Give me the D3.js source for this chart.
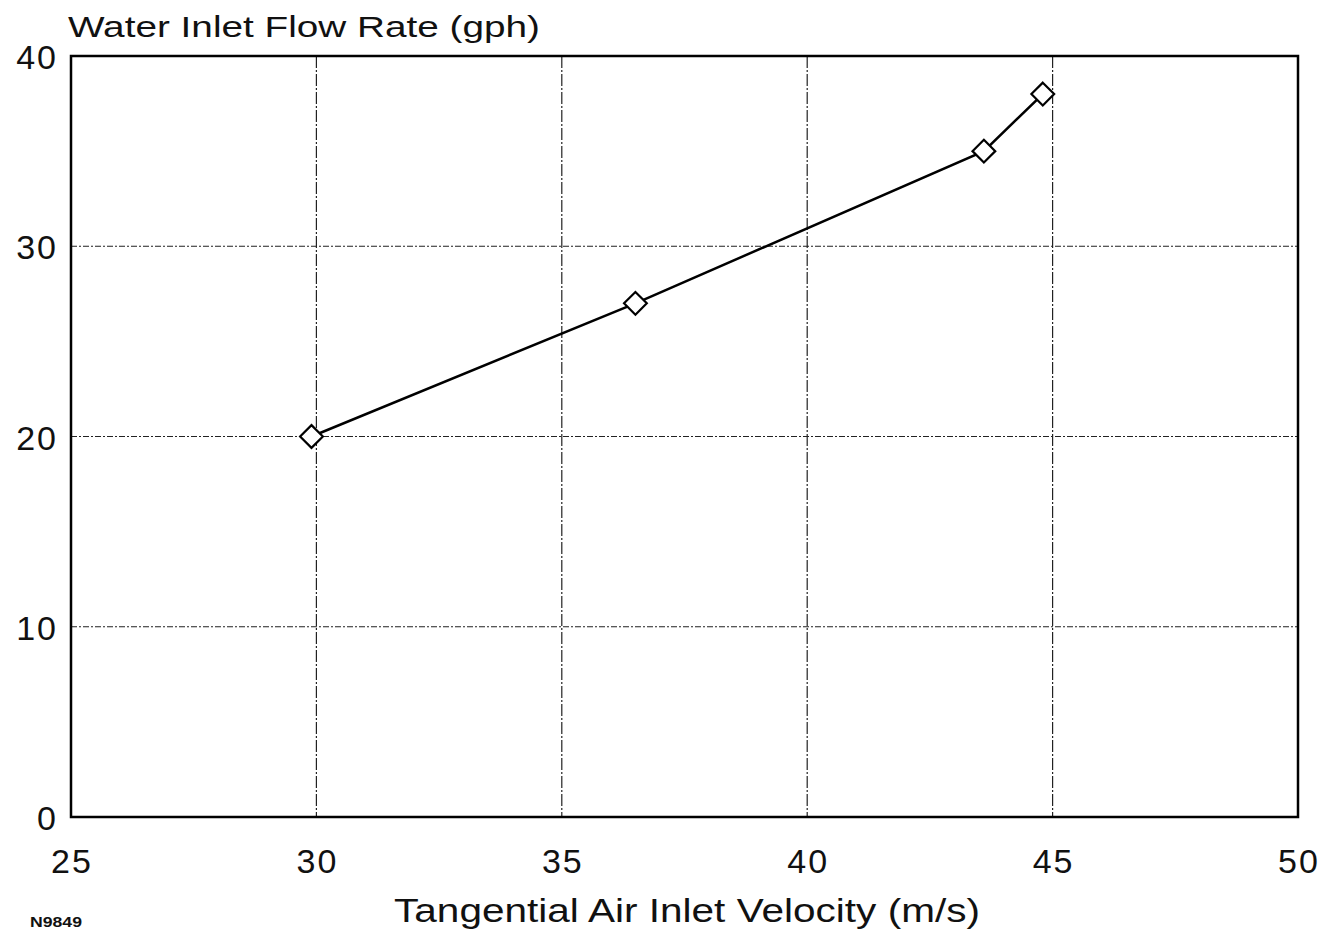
<!DOCTYPE html>
<html>
<head>
<meta charset="utf-8">
<script src="https://cdn.jsdelivr.net/npm/d3@7"></script>
<style>
  body { margin: 0; background: #fff; }
  text { font-family: "Liberation Sans", Arial, sans-serif; fill: #111; }
</style>
</head>
<body>
<svg id="chart" width="1333" height="933"></svg>
<script>
// data
const velocity = [29.9, 36.5, 43.6, 44.8];
const flowRate = [20, 27, 35, 38];
const xTicks = [25, 30, 35, 40, 45, 50];
const yTicks = [0, 10, 20, 30, 40];

const svg = d3.select("#chart");
const plotL = 71, plotR = 1298, plotT = 56, plotB = 817;

const x = d3.scaleLinear().domain([25, 50]).range([plotL, plotR]);
const y = d3.scaleLinear().domain([0, 40]).range([plotB, plotT]);

// grid
svg.selectAll("line.vgrid")
  .data(xTicks.slice(1, -1))
  .enter()
  .append("line")
  .attr("x1", d => x(d)).attr("x2", d => x(d))
  .attr("y1", plotT).attr("y2", plotB)
  .attr("stroke", "#222")
  .attr("stroke-width", 1.2)
  .attr("stroke-dasharray", "12,2,2,2");

svg.selectAll("line.hgrid")
  .data(yTicks.slice(1, -1))
  .enter()
  .append("line")
  .attr("x1", plotL).attr("x2", plotR)
  .attr("y1", d => y(d)).attr("y2", d => y(d))
  .attr("stroke", "#222")
  .attr("stroke-width", 1.2)
  .attr("stroke-dasharray", "6,2,2,2");

// frame
svg.append("rect")
  .attr("x", plotL).attr("y", plotT)
  .attr("width", plotR - plotL).attr("height", plotB - plotT)
  .attr("fill", "none")
  .attr("stroke", "#000")
  .attr("stroke-width", 2.5);

// tick labels
svg.selectAll("text.xt")
  .data(xTicks)
  .enter()
  .append("text")
  .attr("x", d => x(d) + 1)
  .attr("y", 873)
  .attr("text-anchor", "middle")
  .attr("font-size", 34)
  .attr("letter-spacing", 2)
  .text(d => d);

svg.selectAll("text.yt")
  .data(yTicks)
  .enter()
  .append("text")
  .attr("x", 58)
  .attr("y", d => y(d) + 13)
  .attr("text-anchor", "end")
  .attr("font-size", 34)
  .attr("letter-spacing", 2)
  .text(d => d);

// titles
svg.append("text")
  .attr("x", 68).attr("y", 37)
  .attr("font-size", 30)
  .attr("textLength", 472)
  .attr("lengthAdjust", "spacingAndGlyphs")
  .text("Water Inlet Flow Rate (gph)");

svg.append("text")
  .attr("x", 394).attr("y", 922)
  .attr("font-size", 33)
  .attr("textLength", 586)
  .attr("lengthAdjust", "spacingAndGlyphs")
  .text("Tangential Air Inlet Velocity (m/s)");

svg.append("text")
  .attr("x", 30).attr("y", 927)
  .attr("font-size", 15)
  .attr("font-weight", "bold")
  .attr("textLength", 52)
  .attr("lengthAdjust", "spacingAndGlyphs")
  .text("N9849");

// series
const pts = velocity.map((v, i) => [v, flowRate[i]]);
const line = d3.line().x(d => x(d[0])).y(d => y(d[1]));

svg.append("path")
  .datum(pts)
  .attr("d", line)
  .attr("fill", "none")
  .attr("stroke", "#000")
  .attr("stroke-width", 2.5);

svg.selectAll("path.marker")
  .data(pts)
  .enter()
  .append("path")
  .attr("d", d3.symbol().type(d3.symbolDiamond2).size(330))
  .attr("transform", d => `translate(${x(d[0])},${y(d[1])})`)
  .attr("fill", "#fff")
  .attr("stroke", "#000")
  .attr("stroke-width", 2.2);
</script>
</body>
</html>
